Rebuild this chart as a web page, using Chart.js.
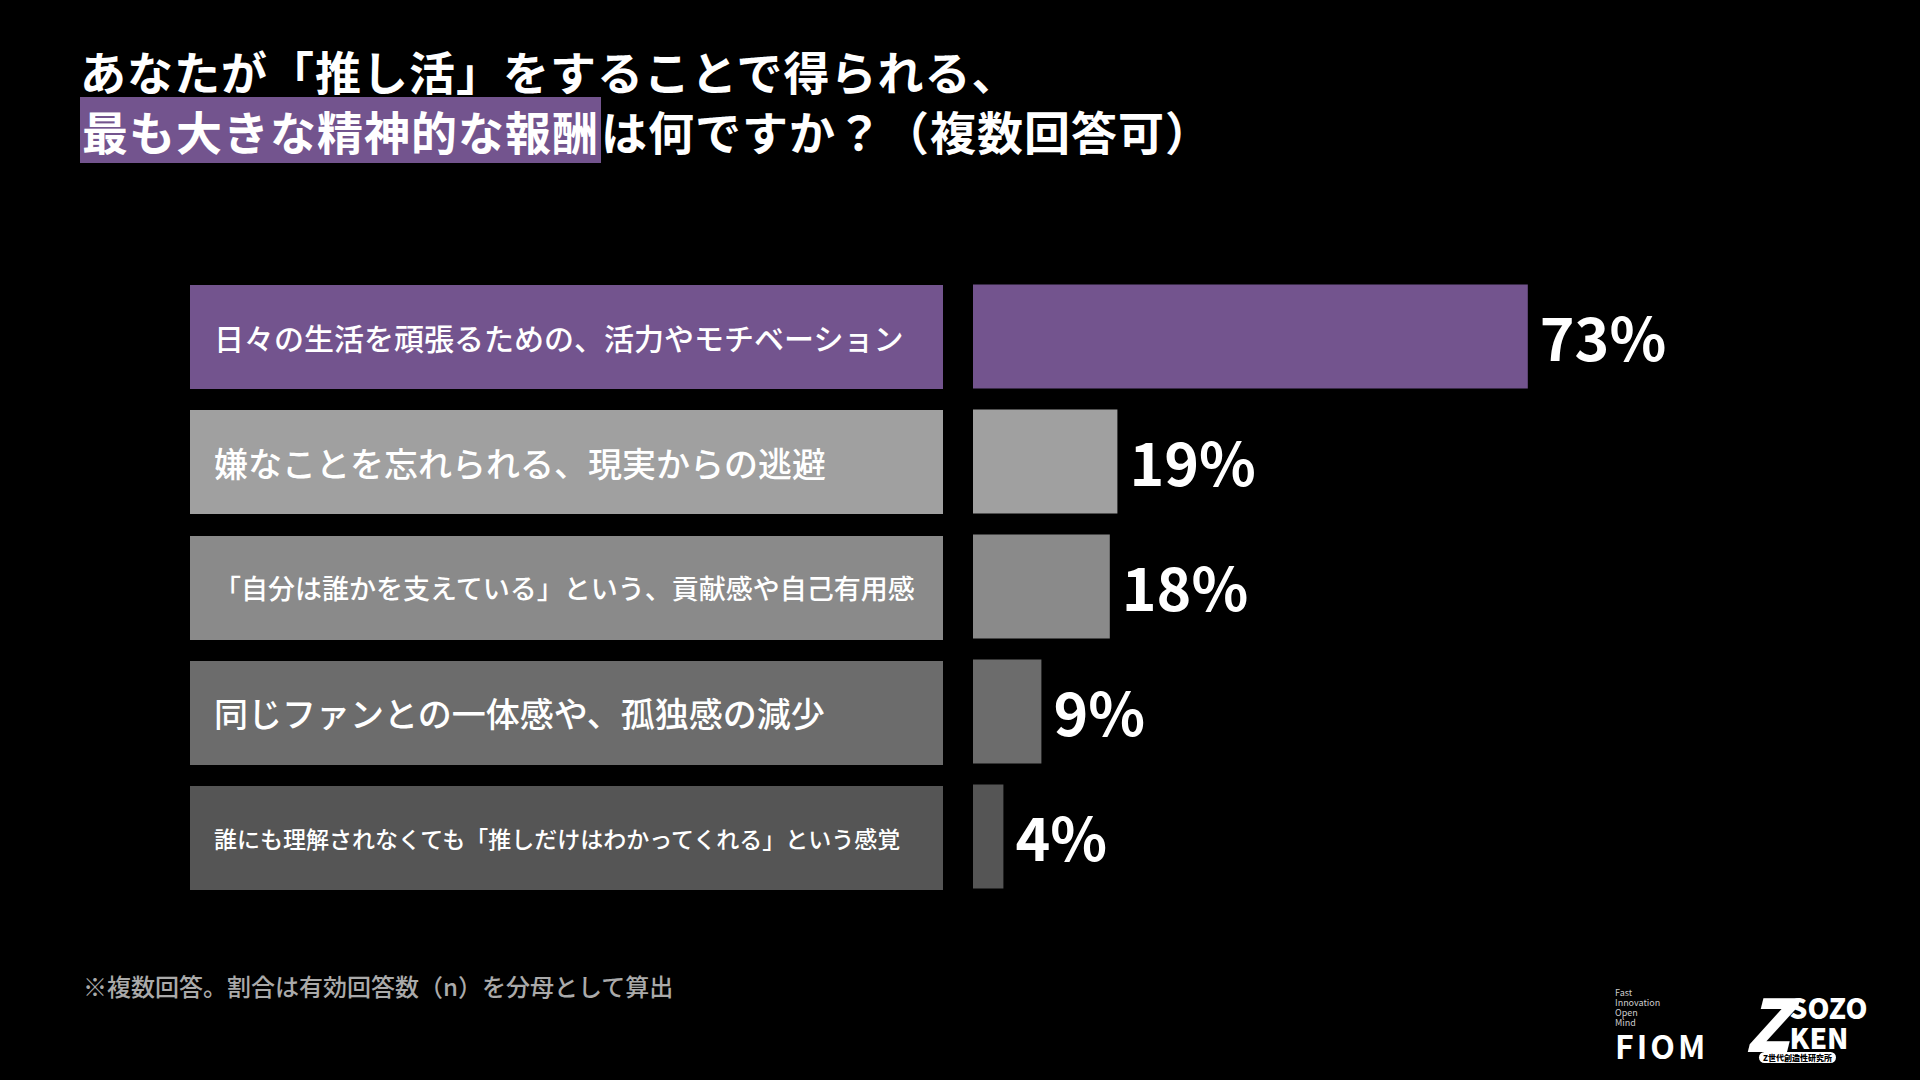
<!DOCTYPE html>
<html><head><meta charset="utf-8">
<script src="https://cdn.jsdelivr.net/npm/chart.js@4"></script>
<style>
  html,body{margin:0;background:#000;width:1920px;height:1080px;overflow:hidden;font-family:"Noto Sans CJK JP",sans-serif;color:#fff}
  .title{position:absolute;left:80px;top:40px;font-size:46px;font-weight:700;line-height:60px;letter-spacing:1px}
  .hl{background:#73548e;padding:0 2px}
  .lbl{position:absolute;left:190px;width:753px;height:104px;display:flex;align-items:center;box-sizing:border-box;padding-left:24px;font-weight:500;white-space:nowrap}
  #wrap{position:absolute;left:973px;top:274px;width:900px;height:625px}
  .note{position:absolute;left:83px;top:968px;font-size:24px;color:#aaa;font-weight:500}
  .fiom{position:absolute;left:1615px;top:988px;color:#fff}
  .zk{position:absolute;left:1745px;top:990px;color:#fff;font-weight:900}
</style></head><body>
<div class="title">あなたが「推し活」をすることで得られる、<br><span class="hl">最も大きな精神的な報酬</span>は何ですか？（複数回答可）</div>
<div id="labels"></div>
<div id="wrap"><canvas id="c"></canvas></div>
<div class="note">※複数回答。割合は有効回答数（n）を分母として算出</div>
<div class="fiom"><div style="font-size:9px;line-height:10px;color:#ccc">Fast<br>Innovation<br>Open<br>Mind</div><div style="font-size:32px;font-weight:700;letter-spacing:3px;line-height:34px">FIOM</div></div>
<div class="zk"><div style="display:flex;align-items:flex-end"><span style="font-size:72px;line-height:62px;font-style:italic">Z</span><span style="font-size:28px;line-height:30px">SOZO<br>KEN</span></div><div style="font-size:8px;background:#fff;color:#000;border-radius:6px;padding:0 4px;margin-left:14px;width:max-content">Z世代創造性研究所</div></div>
<script>
const categories = [
  '日々の生活を頑張るための、活力やモチベーション',
  '嫌なことを忘れられる、現実からの逃避',
  '「自分は誰かを支えている」という、貢献感や自己有用感',
  '同じファンとの一体感や、孤独感の減少',
  '誰にも理解されなくても「推しだけはわかってくれる」という感覚'
];
const values = [73, 19, 18, 9, 4];
const colors = ['#73548e', '#a0a0a0', '#8a8a8a', '#6c6c6c', '#555555'];
const labelSizes = [30, 34, 27, 34, 23];

const box = document.getElementById('labels');
categories.forEach((t, i) => {
  const d = document.createElement('div');
  d.className = 'lbl';
  d.style.top = (285 + i * 125.3) + 'px';
  d.style.background = colors[i];
  d.style.fontSize = labelSizes[i] + 'px';
  d.textContent = t;
  box.appendChild(d);
});

const valueLabels = {
  id: 'valueLabels',
  afterDatasetsDraw(chart) {
    const ctx = chart.ctx;
    ctx.save();
    ctx.fillStyle = '#fff';
    ctx.font = 'bold 59px "Noto Sans CJK JP", sans-serif';
    ctx.textBaseline = 'middle';
    chart.getDatasetMeta(0).data.forEach((bar, i) => {
      ctx.fillText(values[i] + '%', bar.x + 12, bar.y + 2);
    });
    ctx.restore();
  }
};

new Chart(document.getElementById('c'), {
  type: 'bar',
  data: {
    labels: categories,
    datasets: [{
      data: values,
      backgroundColor: colors,
      categoryPercentage: 1,
      barPercentage: 0.832,
      borderWidth: 0,
    }],
  },
  options: {
    indexAxis: 'y',
    responsive: true,
    maintainAspectRatio: false,
    animation: false,
    layout: { padding: 0 },
    plugins: { legend: { display: false }, tooltip: { enabled: false } },
    scales: {
      x: { display: false, min: 0, max: 100 * 900 / 760 },
      y: { display: false },
    },
  },
  plugins: [valueLabels],
});
</script>
</body></html>
